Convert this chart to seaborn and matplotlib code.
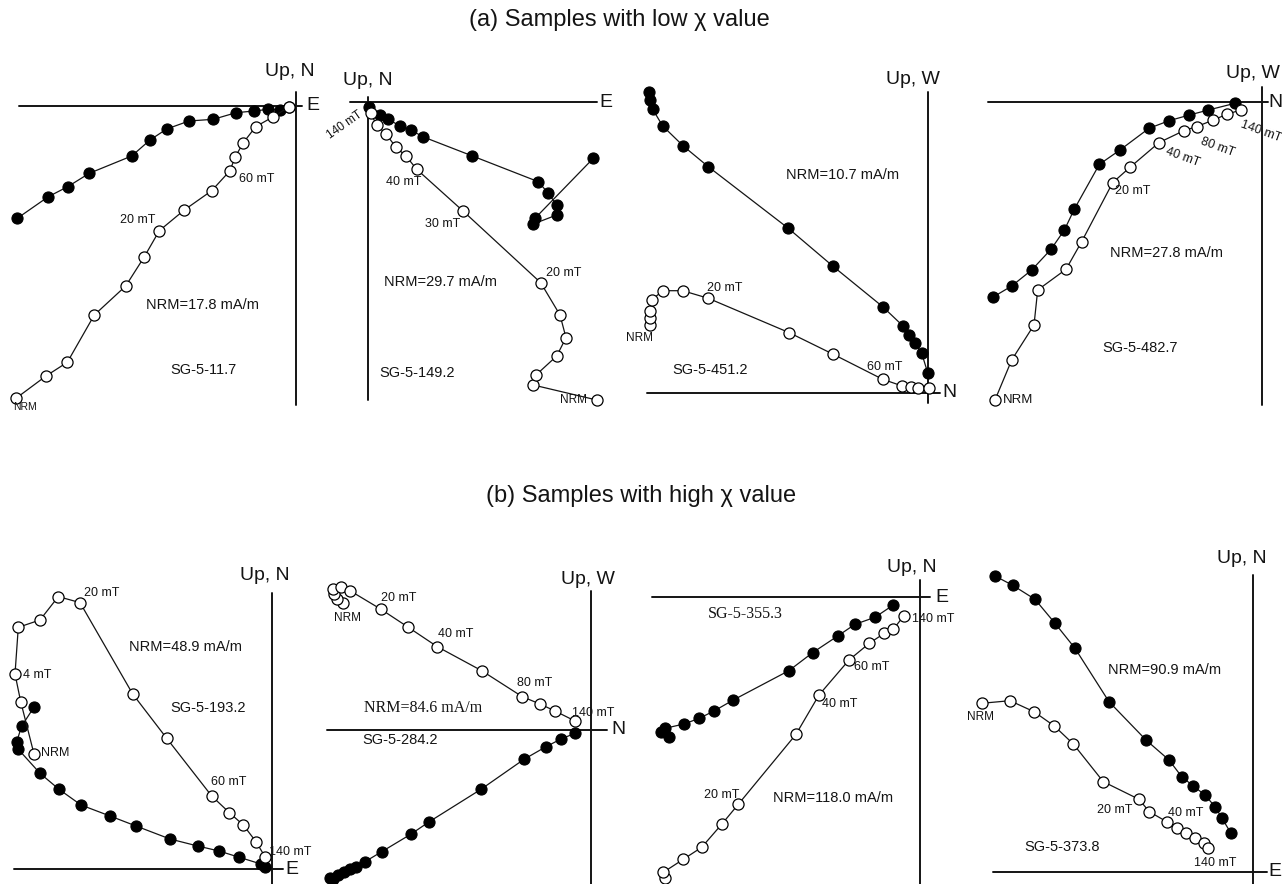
import matplotlib
matplotlib.use("Agg")
import matplotlib.pyplot as plt
import seaborn as sns

sns.set_theme(style="white")
plt.rcParams["font.family"] = ["Liberation Sans", "DejaVu Sans"]

W, H = 1282, 884

# ---------------------------------------------------------------------------
# Orthogonal projections of AF demagnetisation (NRM first, in plot units).
# horiz_* : horizontal-plane projection (filled symbols)
# vert_*  : vertical-plane projection (open symbols)
# ---------------------------------------------------------------------------

# SG-5-11.7
s1_horiz_x = [-278.7, -247.7, -228.3, -206.7, -164.3, -146.0, -129.3, -107.0, -82.7, -60.0, -42.0, -27.7, -16.0, -7.3]
s1_horiz_y = [-112.3, -90.7, -80.7, -67.3, -50.0, -34.0, -23.0, -15.0, -13.3, -6.7, -5.0, -3.3, -4.0, -0.7]
s1_vert_x = [-280.0, -250.0, -228.7, -201.7, -170.3, -152.0, -136.7, -111.7, -84.3, -66.0, -61.0, -52.7, -40.3, -22.7, -6.7]
s1_vert_y = [-292.3, -270.0, -256.3, -209.0, -180.0, -151.3, -124.7, -104.0, -84.7, -64.7, -51.3, -36.7, -20.7, -10.7, -0.7]

# SG-5-149.2
s2_horiz_x = [225.6, 167.3, 165.6, 189.0, 189.0, 180.6, 170.6, 104.0, 55.0, 43.3, 32.3, 20.6, 12.3, 1.6]
s2_horiz_y = [-56.0, -116.0, -121.7, -112.7, -102.7, -91.0, -79.4, -53.4, -34.4, -27.7, -23.7, -17.0, -12.7, -4.4]
s2_vert_x = [229.0, 165.6, 168.3, 189.0, 198.3, 192.3, 173.0, 95.0, 49.0, 38.3, 28.3, 18.3, 9.0, 3.0]
s2_vert_y = [-297.7, -282.7, -272.7, -253.7, -235.4, -212.7, -180.4, -108.4, -67.0, -53.7, -45.0, -31.7, -22.7, -11.0]

# SG-5-451.2
s3_horiz_x = [-279.3, -278.3, -275.6, -265.6, -245.0, -220.0, -140.0, -95.6, -45.6, -25.6, -19.0, -13.3, -6.6, -0.6]
s3_horiz_y = [301.0, 292.7, 283.4, 266.7, 246.7, 226.0, 164.4, 126.7, 86.0, 67.0, 57.7, 49.4, 39.4, 20.0]
s3_vert_x = [-278.3, -278.3, -278.3, -276.6, -265.6, -245.6, -220.0, -139.0, -95.6, -45.6, -26.0, -17.7, -10.0, 0.7]
s3_vert_y = [67.7, 74.4, 82.0, 92.7, 102.0, 102.0, 94.4, 60.0, 38.7, 13.4, 6.7, 6.0, 5.0, 4.4]

# SG-5-482.7
s4_horiz_x = [-269.0, -250.0, -230.0, -210.7, -197.3, -187.3, -162.3, -141.7, -112.7, -92.3, -72.3, -53.3, -26.7]
s4_horiz_y = [-195.0, -183.7, -167.7, -147.0, -127.7, -106.7, -62.0, -47.7, -26.0, -18.3, -12.7, -7.7, -1.0]
s4_vert_x = [-266.7, -250.0, -227.7, -224.0, -195.7, -180.0, -149.0, -131.7, -102.7, -77.7, -65.0, -48.3, -35.0, -21.0]
s4_vert_y = [-297.7, -257.7, -222.7, -187.7, -167.0, -139.3, -80.3, -65.0, -40.3, -28.3, -24.3, -17.7, -12.0, -7.7]

# SG-5-193.2
s5_horiz_x = [-237.4, -250.0, -255.0, -253.4, -231.7, -212.7, -190.7, -161.7, -135.7, -101.7, -74.0, -52.7, -32.4, -10.7, -6.7]
s5_horiz_y = [162.6, 143.3, 127.6, 120.0, 96.0, 80.0, 64.3, 53.3, 43.3, 30.3, 23.3, 18.3, 12.0, 5.3, 2.7]
s5_vert_x = [-237.7, -251.0, -256.7, -253.4, -231.7, -213.4, -191.7, -139.0, -105.0, -60.0, -42.4, -28.4, -15.7, -6.7]
s5_vert_y = [115.3, 167.7, 195.3, 242.0, 249.3, 272.7, 266.7, 175.3, 131.0, 73.3, 56.7, 44.3, 27.6, 12.6]

# SG-5-284.2
s6_horiz_x = [-261.0, -257.7, -252.7, -247.0, -241.0, -235.0, -226.0, -209.3, -180.3, -161.7, -110.0, -67.0, -45.0, -30.0, -16.0]
s6_horiz_y = [-148.0, -149.3, -145.0, -142.3, -139.3, -136.7, -131.7, -121.7, -104.3, -91.7, -59.3, -29.3, -16.7, -9.0, -3.3]
s6_vert_x = [-248.3, -254.3, -257.0, -258.3, -250.3, -241.0, -210.0, -182.7, -153.7, -109.3, -68.7, -51.0, -36.0, -16.0]
s6_vert_y = [126.7, 130.7, 136.0, 140.7, 143.3, 139.3, 120.7, 102.7, 83.3, 59.3, 33.3, 26.0, 19.0, 9.0]

# SG-5-355.3
s7_horiz_x = [-250.7, -259.3, -255.0, -236.0, -220.7, -206.0, -186.7, -131.0, -107.3, -82.3, -65.0, -45.0, -26.7]
s7_horiz_y = [-140.0, -134.3, -131.0, -126.7, -121.0, -113.7, -102.7, -73.3, -55.3, -38.7, -27.0, -20.0, -7.7]
s7_vert_x = [-255.0, -256.7, -236.7, -218.3, -198.3, -181.7, -124.0, -101.0, -71.0, -50.7, -35.7, -26.7, -16.0]
s7_vert_y = [-281.0, -275.0, -262.0, -250.0, -227.0, -207.0, -137.0, -97.7, -62.7, -46.0, -36.0, -32.0, -18.3]

# SG-5-373.8
s8_horiz_x = [-257.7, -240.0, -217.7, -197.7, -177.7, -143.7, -106.7, -83.7, -71.0, -59.4, -47.7, -37.7, -31.0, -21.7]
s8_horiz_y = [295.7, 286.4, 272.4, 248.4, 223.4, 170.0, 131.7, 111.7, 95.0, 85.7, 76.7, 65.0, 54.0, 38.4]
s8_vert_x = [-271.0, -242.7, -218.7, -198.4, -179.4, -149.4, -113.7, -103.4, -86.0, -76.0, -66.7, -57.7, -48.4, -44.4]
s8_vert_y = [168.4, 171.0, 160.0, 145.7, 127.7, 90.0, 72.4, 60.0, 50.0, 43.4, 38.4, 33.4, 28.4, 23.4]

sample_ids = ["SG-5-11.7", "SG-5-149.2", "SG-5-451.2", "SG-5-482.7",
              "SG-5-193.2", "SG-5-284.2", "SG-5-355.3", "SG-5-373.8"]
nrm_values = ["NRM=17.8 mA/m", "NRM=29.7 mA/m", "NRM=10.7 mA/m", "NRM=27.8 mA/m",
              "NRM=48.9 mA/m", "NRM=84.6 mA/m", "NRM=118.0 mA/m", "NRM=90.9 mA/m"]
up_labels = ["Up, N", "Up, N", "Up, W", "Up, W", "Up, N", "Up, W", "Up, N", "Up, N"]
horiz_labels = ["E", "E", "N", "N", "E", "N", "E", "E"]

series = [
    (s1_horiz_x, s1_horiz_y, s1_vert_x, s1_vert_y),
    (s2_horiz_x, s2_horiz_y, s2_vert_x, s2_vert_y),
    (s3_horiz_x, s3_horiz_y, s3_vert_x, s3_vert_y),
    (s4_horiz_x, s4_horiz_y, s4_vert_x, s4_vert_y),
    (s5_horiz_x, s5_horiz_y, s5_vert_x, s5_vert_y),
    (s6_horiz_x, s6_horiz_y, s6_vert_x, s6_vert_y),
    (s7_horiz_x, s7_horiz_y, s7_vert_x, s7_vert_y),
    (s8_horiz_x, s8_horiz_y, s8_vert_x, s8_vert_y),
]

# Panel layout: cell box (left, top, right, bottom) and axis-origin, in pixels
layout = [
    dict(cell=(0, 40, 320, 420), origin=(296.0, 106.0),
         hline=(-277, 6), vline=(14, -299), up=(-6, 34), hl=(10, 1),
         nrm=(-94, -199), sid=(-93, -264), serif=(False, False),
         steps=[("60 mT", -39, -73, 0), ("20 mT", -158, -114, 0), ("NRM", -271, -301, 0)],
         step_size=[9, 9, 7.5]),
    dict(cell=(320, 40, 640, 420), origin=(367.7, 102.3),
         hline=(-17.7, 229), vline=(5.6, -297.7), up=(0, 22), hl=(232, 0),
         nrm=(72.3, -179.4), sid=(49, -271), serif=(False, False),
         steps=[("140 mT", -22.7, -22.7, 35), ("40 mT", 35.7, -79.7, 0), ("30 mT", 75, -121.7, 0),
                ("20 mT", 195.7, -171, 0), ("NRM", 205.7, -297.7, 0)],
         step_size=[8.5, 9, 9, 9, 8.5]),
    dict(cell=(640, 40, 960, 420), origin=(928.3, 392.7),
         hline=(-281.6, 11.7), vline=(301, -10.3), up=(-15, 312.7), hl=(14, 0),
         nrm=(-85.6, 217.7), sid=(-218.3, 22.7), serif=(False, False),
         steps=[("20 mT", -203.3, 105, 0), ("60 mT", -43.3, 25.4, 0), ("NRM", -289, 54.7, 0)],
         step_size=[9, 9, 8.5]),
    dict(cell=(960, 40, 1282, 420), origin=(1261.7, 102.3),
         hline=(-273.7, 6), vline=(15.6, -302.7), up=(-8.7, 29.3), hl=(7.0, 0),
         nrm=(-95, -150.3), sid=(-121.7, -245.3), serif=(False, False),
         steps=[("140 mT", -1, -29.3, -20), ("80 mT", -43.7, -45, -20), ("40 mT", -79, -55, -20),
                ("20 mT", -128.7, -88.7, 0), ("NRM", -243.7, -297.7, 0)],
         step_size=[9, 9, 9, 9, 9.5]),
    dict(cell=(0, 505, 320, 884), origin=(271.7, 869.3),
         hline=(-257.7, 11.3), vline=(276.6, -14.7), up=(-6.7, 294.3), hl=(13.3, 0),
         nrm=(-86.7, 222.6), sid=(-63.4, 161), serif=(False, False),
         steps=[("20 mT", -170, 276.3, 0), ("4 mT", -235, 194.3, 0), ("NRM", -216.7, 116, 0),
                ("60 mT", -43.4, 87.6, 0), ("140 mT", 18.3, 17.6, 0)],
         step_size=[9, 9, 9, 9, 9]),
    dict(cell=(320, 505, 640, 884), origin=(591.0, 730.0),
         hline=(-263.7, 15.7), vline=(139, -154), up=(-3, 151), hl=(20, 0),
         nrm=(-167.7, 21.7), sid=(-191, -10), serif=(True, False),
         steps=[("20 mT", -192.7, 131.7, 0), ("NRM", -243.7, 111.7, 0), ("40 mT", -135, 96, 0),
                ("80 mT", -56, 46.7, 0), ("140 mT", 2.3, 17.3, 0)],
         step_size=[9, 8.5, 9, 9, 9]),
    dict(cell=(640, 505, 960, 884), origin=(920.0, 597.3),
         hline=(-268.3, 10), vline=(17.3, -286.7), up=(-8.3, 29.3), hl=(15, 0),
         nrm=(-86.7, -201), sid=(-175, -17), serif=(False, True),
         steps=[("140 mT", 13.3, -22, 0), ("60 mT", -48.3, -69.4, 0), ("40 mT", -80, -106.7, 0),
                ("20 mT", -198.3, -197.7, 0)],
         step_size=[9, 9, 9, 9]),
    dict(cell=(960, 505, 1282, 884), origin=(1252.7, 871.7),
         hline=(-260, 14), vline=(296.7, -12.3), up=(-11, 313.4), hl=(16.0, 0),
         nrm=(-87.7, 201.7), sid=(-191, 25), serif=(False, False),
         steps=[("NRM", -272.7, 155, 0), ("20 mT", -137.7, 61.7, 0), ("40 mT", -66.7, 59, 0),
                ("140 mT", -37.7, 8.4, 0)],
         step_size=[8.5, 9, 9, 9]),
]

fig = plt.figure(figsize=(W / 100, H / 100), dpi=100)
fig.patch.set_facecolor("white")

SERIF = ["Liberation Serif", "DejaVu Serif"]
SANS = ["Liberation Sans", "DejaVu Sans"]
INK = "#141414"

for i, spec in enumerate(layout):
    bx0, by0, bx1, by1 = spec["cell"]
    ox, oy = spec["origin"]
    ax = fig.add_axes([bx0 / W, 1 - by1 / H, (bx1 - bx0) / W, (by1 - by0) / H])
    ax.set_xlim(bx0 - ox, bx1 - ox)
    ax.set_ylim(oy - by1, oy - by0)
    ax.set_axis_off()
    ax.patch.set_alpha(0)

    # axes of the projection
    ax.plot(spec["hline"], [0, 0], color=INK, lw=1.4, clip_on=False, zorder=1)
    ax.plot([0, 0], spec["vline"], color=INK, lw=1.4, clip_on=False, zorder=1)

    hx, hy, vx, vy = series[i]
    sns.lineplot(x=hx, y=hy, sort=False, estimator=None, ax=ax, color=INK, lw=0.9,
                 marker="o", markersize=8, markerfacecolor="black",
                 markeredgecolor="black", markeredgewidth=0.8, clip_on=False, zorder=3)
    sns.lineplot(x=vx, y=vy, sort=False, estimator=None, ax=ax, color=INK, lw=0.9,
                 marker="o", markersize=8, markerfacecolor="white",
                 markeredgecolor="black", markeredgewidth=0.9, clip_on=False, zorder=4)

    ux, uy = spec["up"]
    ax.text(ux, uy, up_labels[i], ha="center", va="center", fontsize=14, color=INK)
    lx, ly = spec["hl"]
    ax.text(lx, ly, horiz_labels[i], ha="left", va="center", fontsize=14, color=INK,
            clip_on=False)

    nx, ny = spec["nrm"]
    ax.text(nx, ny, nrm_values[i], ha="center", va="center",
            fontsize=11.5 if spec["serif"][0] else 10.5,
            family=SERIF if spec["serif"][0] else SANS, color=INK)
    sx, sy = spec["sid"]
    ax.text(sx, sy, sample_ids[i], ha="center", va="center",
            fontsize=11.5 if spec["serif"][1] else 10.5,
            family=SERIF if spec["serif"][1] else SANS, color=INK)

    for (txt, tx, ty, rot), fs in zip(spec["steps"], spec["step_size"]):
        ax.text(tx, ty, txt, ha="center", va="center", fontsize=fs, rotation=rot,
                color=INK, zorder=5)

fig.text(619 / W, 1 - 20 / H, "(a) Samples with low χ value", ha="center", va="center",
         fontsize=17, color=INK)
fig.text(641 / W, 1 - 496 / H, "(b) Samples with high χ value", ha="center", va="center",
         fontsize=17, color=INK)

fig.savefig("out.png", dpi=100, facecolor="white")
